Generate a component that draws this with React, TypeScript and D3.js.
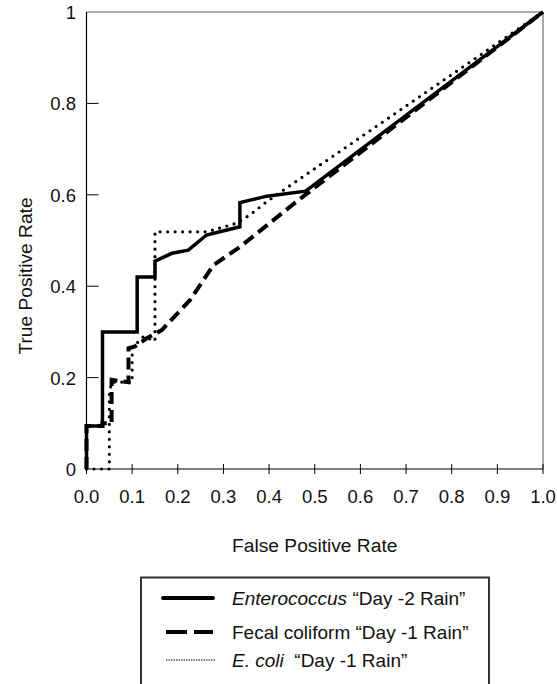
import React from "react";
import * as d3 from "d3";

const xTicks = [0, 0.1, 0.2, 0.3, 0.4, 0.5, 0.6, 0.7, 0.8, 0.9, 1.0];
const xTickLabels = ["0.0", "0.1", "0.2", "0.3", "0.4", "0.5", "0.6", "0.7", "0.8", "0.9", "1.0"];
const yTicks = [0, 0.2, 0.4, 0.6, 0.8, 1];
const yTickLabels = ["0", "0.2", "0.4", "0.6", "0.8", "1"];

const enteroFpr = [0, 0, 0.035, 0.035, 0.111, 0.111, 0.15, 0.15, 0.187, 0.223, 0.263, 0.336, 0.336, 0.395, 0.48, 1];
const enteroTpr = [0, 0.094, 0.094, 0.3, 0.3, 0.42, 0.42, 0.455, 0.472, 0.479, 0.512, 0.53, 0.583, 0.597, 0.608, 1];

const fecalFpr = [0, 0, 0.035, 0.035, 0.055, 0.055, 0.092, 0.092, 0.106, 0.132, 0.165, 0.227, 0.278, 0.336, 0.46, 1];
const fecalTpr = [0, 0.094, 0.094, 0.1, 0.1, 0.195, 0.19, 0.264, 0.268, 0.286, 0.304, 0.37, 0.446, 0.486, 0.585, 1];

const ecoliFpr = [0, 0.05, 0.05, 0.055, 0.1, 0.1, 0.125, 0.15, 0.15, 0.263, 0.329, 0.358, 0.395, 0.453, 1];
const ecoliTpr = [0, 0, 0.165, 0.19, 0.19, 0.265, 0.29, 0.28, 0.519, 0.519, 0.538, 0.556, 0.585, 0.625, 1];

const W = 557;
const H = 684;
const left = 86.5;
const right = 543;
const top = 12;
const bottom = 469;
const font = "Arial, 'Liberation Sans', sans-serif";

export default function App() {
  const x = d3.scaleLinear().domain([0, 1]).range([left, right]);
  const y = d3.scaleLinear().domain([0, 1]).range([bottom, top]);
  const line = d3
    .line<[number, number]>()
    .x((d) => x(d[0]))
    .y((d) => y(d[1]));
  const zip = (a: number[], b: number[]) => a.map((v, i) => [v, b[i]] as [number, number]);

  const legendItems = [
    { name: "Enterococcus", rest: " \u201CDay -2 Rain\u201D", italic: true, type: "solid", ly: 598 },
    { name: "Fecal coliform", rest: " \u201CDay -1 Rain\u201D", italic: false, type: "dashed", ly: 632 },
    { name: "E. coli", rest: "  \u201CDay -1 Rain\u201D", italic: true, type: "dotted", ly: 660 },
  ];

  return (
    <svg
      width={W}
      height={H}
      style={{ position: "absolute", left: 0, top: 0, background: "#fff" }}
      fontFamily={font}
    >
      {/* frame */}
      <line x1={left} x2={right} y1={top} y2={top} stroke="#555" strokeWidth={1} />
      <line x1={right} x2={right} y1={top} y2={bottom} stroke="#555" strokeWidth={1} />
      <line x1={left} x2={left} y1={top} y2={bottom} stroke="#000" strokeWidth={1.2} />
      <line x1={left} x2={right} y1={bottom} y2={bottom} stroke="#000" strokeWidth={1.2} />

      {/* y ticks */}
      {yTicks.map((t, i) => (
        <g key={"y" + i}>
          {t > 0 && t < 1 && (
            <line x1={left} x2={left + 12} y1={y(t)} y2={y(t)} stroke="#000" strokeWidth={1} />
          )}
          <text x={76} y={y(t) + 7} textAnchor="end" fontSize={18.5} fill="#111">
            {yTickLabels[i]}
          </text>
        </g>
      ))}

      {/* x ticks */}
      {xTicks.map((t, i) => (
        <g key={"x" + i}>
          <line x1={x(t)} x2={x(t)} y1={bottom - 5} y2={bottom + 5} stroke="#000" strokeWidth={1} />
          <text x={x(t)} y={503} textAnchor="middle" fontSize={18.5} fill="#111">
            {xTickLabels[i]}
          </text>
        </g>
      ))}

      <text x={(left + right) / 2} y={552} textAnchor="middle" fontSize={19.2} fill="#111">
        False Positive Rate
      </text>
      <text
        transform={`translate(31.5, 276) rotate(-90)`}
        textAnchor="middle"
        fontSize={19.2}
        fill="#111"
      >
        True Positive Rate
      </text>

      {/* curves */}
      <path d={line(zip(fecalFpr, fecalTpr)) || ""} fill="none" stroke="#000" strokeWidth={4} strokeDasharray="12,6" />
      <path
        d={line(zip(ecoliFpr, ecoliTpr)) || ""}
        fill="none"
        stroke="#000"
        strokeWidth={3.2}
        strokeLinecap="round"
        strokeDasharray="0,7.5"
      />
      <path d={line(zip(enteroFpr, enteroTpr)) || ""} fill="none" stroke="#000" strokeWidth={3.5} />

      {/* legend */}
      <path d={`M141,684 L141,577.5 L489,577.5 L489,684`} fill="none" stroke="#333" strokeWidth={2} />
      {legendItems.map((it, i) => (
        <g key={"l" + i}>
          {it.type === "solid" && (
            <line x1={163} x2={213} y1={it.ly} y2={it.ly} stroke="#000" strokeWidth={4} strokeLinecap="round" />
          )}
          {it.type === "dashed" && (
            <line x1={166} x2={213} y1={it.ly} y2={it.ly} stroke="#000" strokeWidth={4} strokeDasharray="21,7" />
          )}
          {it.type === "dotted" && (
            <line x1={166} x2={215} y1={it.ly} y2={it.ly} stroke="#000" strokeWidth={1} strokeDasharray="1.5,1" />
          )}
          <text x={232} y={it.ly + 7} fontSize={19} fill="#111">
            <tspan fontStyle={it.italic ? "italic" : "normal"}>{it.name}</tspan>
            <tspan xmlSpace="preserve">{it.rest}</tspan>
          </text>
        </g>
      ))}
    </svg>
  );
}
